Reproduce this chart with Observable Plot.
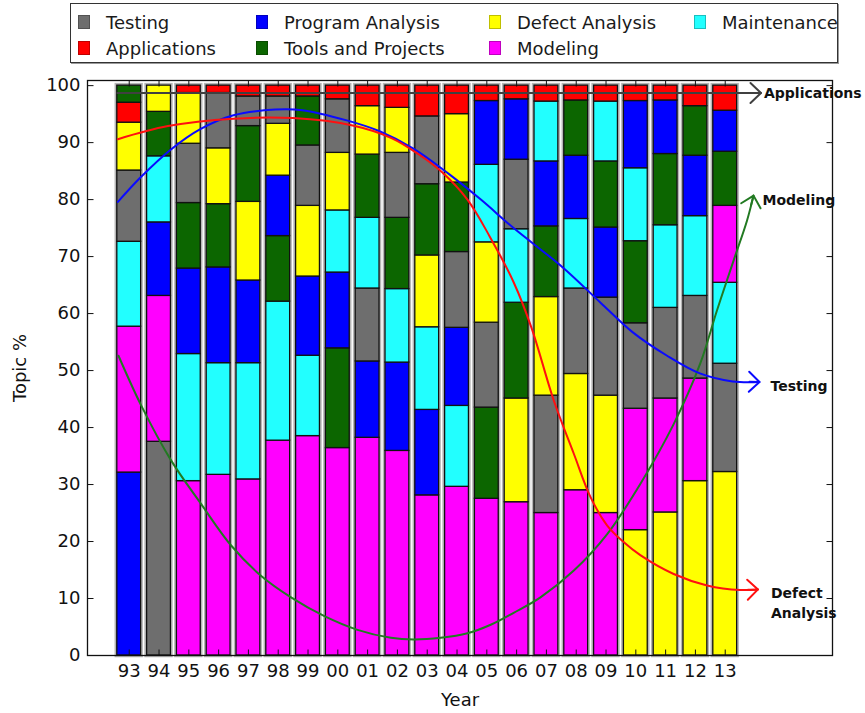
<!DOCTYPE html>
<html>
<head>
<meta charset="utf-8">
<script src="https://cdn.jsdelivr.net/npm/d3@7"></script>
<script src="https://cdn.jsdelivr.net/npm/@observablehq/plot@0.6"></script>
<style>
  body { margin: 0; background: #fff; font-family: "DejaVu Sans", sans-serif; }
  #wrap { width: 865px; }
  #legendArea { position: relative; height: 70px; }
  #legend {
    position: absolute; left: 70px; top: 3px; width: 768px; height: 60px;
    box-sizing: border-box; border: 1px solid #333; box-shadow: 1px 1px 0 #999;
    padding: 5px 0 0 7px; display: grid; grid-template-rows: 26px 26px;
    grid-auto-flow: column; grid-template-columns: 178px 233px 205px auto;
    font-size: 18px; color: #1a1a1a;
  }
  .item { display: flex; align-items: center; height: 26px; white-space: nowrap; }
  .sw { width: 12px; height: 14px; margin-right: 16px; box-sizing: border-box; border: 1px solid rgba(0,0,0,0.25); }
</style>
</head>
<body>
<div id="wrap">
  <div id="legendArea"><div id="legend"></div></div>
  <div id="chart"></div>
</div>
<script>
// ---- Data ----
const years = ["93","94","95","96","97","98","99","00","01","02","03","04","05","06","07","08","09","10","11","12","13"];
const topics = ["Testing","Applications","Program Analysis","Tools and Projects","Defect Analysis","Modeling","Maintenance"];
const topicColors = ["#6e6e6e","#ff0000","#0000ff","#0c6600","#ffff00","#ff00ff","#22ffff"];

const testing         = [12.5,37.5,10.4, 9.7, 5.2, 4.8,10.6, 9.4,12.8,11.4,11.9,13.3,14.9,12.2,20.6,15.0,17.2,15.0,15.9,14.5,19.0];
const applications    = [ 3.5, 0.0, 1.3, 1.3, 1.9, 1.9, 1.9, 2.4, 3.6, 3.9, 5.4, 5.0, 2.7, 2.4, 2.8, 2.6, 2.8, 2.7, 2.6, 3.6, 4.4];
const programAnalysis = [32.1,12.9,15.0,16.8,14.5,10.6,13.9,13.3,13.4,15.5,15.0,13.7,11.2,10.6,11.4,11.1,12.3,11.8, 9.4,10.6, 7.2];
const toolsProjects   = [ 3.0, 7.8,11.5,11.1,13.3,11.5, 8.6,17.5,11.1,12.5,12.5,12.2,16.0,16.8,12.4, 9.7,11.6,14.4,12.5, 8.7, 9.5];
const defectAnalysis  = [ 8.4, 4.6, 8.9, 9.8,13.8, 9.1,12.4,10.1, 8.5, 7.9,12.6,12.0,14.1,18.2,17.3,20.4,20.6,22.0,25.1,30.6,32.2];
const modeling        = [25.6,25.6,30.6,31.7,30.9,37.7,38.5,36.4,38.2,35.9,28.1,29.6,27.5,26.9,25.0,29.0,25.0,21.3,20.0,18.0,13.5];
const maintenance     = [14.9,11.6,22.3,19.6,20.4,24.4,14.1,10.9,12.4,12.9,14.5,14.2,13.6,12.9,10.5,12.2,10.5,12.8,14.5,14.0,14.2];

const yTicks = [0,10,20,30,40,50,60,70,80,90,100];

// Trend curves: [year position (index), topic %]
const applicationsTrend = [[-0.4,98.7],[21.2,98.7]];
const modelingTrend = [[-0.36,52.6],[0.4,43.9],[1.41,34.2],[2.41,26.6],[3.42,19.3],[4.42,14.0],[5.43,10.2],[6.55,6.9],[7.66,4.5],[8.78,3.1],[9.55,2.8],[10.45,3.1],[11.35,3.9],[12.13,5.4],[12.9,7.5],[13.8,10.2],[14.92,14.9],[16.04,21.3],[17.15,30.1],[18.27,40.6],[19.16,51.2],[19.72,60.5],[20.28,69.3],[20.73,76.3],[20.95,80.7]];
const testingTrend = [[-0.38,79.6],[0.4,84.0],[1.4,88.8],[2.4,92.4],[3.5,94.8],[4.9,95.8],[5.8,95.7],[7.3,93.9],[8.4,92.0],[9.55,88.9],[10.7,84.6],[11.8,80.0],[12.9,75.0],[14.55,68.1],[15.8,62.0],[16.9,56.7],[18.05,52.6],[19.15,49.5],[20.25,48.1],[21.15,48.0]];
const defectTrend = [[-0.38,90.6],[1.3,92.9],[3.5,94.2],[5.5,94.3],[7.5,93.0],[8.8,90.8],[9.7,88.0],[10.5,84.8],[11.35,80.0],[12.1,73.5],[12.9,65.5],[13.5,57.5],[14.25,44.7],[14.92,35.4],[15.48,27.8],[16.04,22.8],[16.59,19.9],[17.15,17.6],[18.27,14.3],[19.39,12.3],[20.5,11.5],[21.1,11.6]];

// ---- Build tables ----
const series = [testing, applications, programAnalysis, toolsProjects, defectAnalysis, modeling, maintenance];
const rows = [];
const totals = [];
years.forEach((yr, i) => {
  const entries = topics.map((t, k) => ({topic: t, value: series[k][i]}))
    .filter(d => d.value > 0)
    .sort((a, b) => b.value - a.value);
  let acc = 0;
  for (const e of entries) {
    rows.push({i, year: yr, topic: e.topic, y1: acc, y2: acc + e.value});
    acc += e.value;
  }
  totals.push({i, total: acc});
});

// ---- Legend ----
const legend = document.getElementById("legend");
topics.forEach((t, k) => {
  const it = document.createElement("div");
  it.className = "item";
  it.innerHTML = `<span class="sw" style="background:${topicColors[k]}"></span><span>${t}</span>`;
  legend.appendChild(it);
});

// ---- Layout ----
const W = 865, H = 643, mL = 87, mR = 33, mT = 10, mB = 58;
const xDom = [-1.4, 23.6], yDom = [0, 100.9];
const kx = (W - mL - mR) / (xDom[1] - xDom[0]);
const ky = (H - mT - mB) / (yDom[1] - yDom[0]);
const half = 0.4;

const tickSym = (dx, dy) => ({draw(ctx) { ctx.moveTo(0, 0); ctx.lineTo(dx, dy); }});
const headShape = {draw(ctx, l) { ctx.moveTo(0, 0); ctx.lineTo(0, -l); ctx.moveTo(-10, -l + 10.5); ctx.lineTo(0, -l); ctx.lineTo(10, -l + 10.5); }};

const trends = [
  {name: "Applications", pts: applicationsTrend, color: "#404040", label: "Applications", dx: 3, dy: -1},
  {name: "Modeling", pts: modelingTrend, color: "#227a22", label: "Modeling", dx: 9, dy: 3},
  {name: "Testing", pts: testingTrend, color: "#0a0aff", label: "Testing", dx: 11, dy: 3},
  {name: "Defect", pts: defectTrend, color: "#ff1010", label: "Defect\nAnalysis", dx: 13, dy: 12}
];

const trendMarks = [];
for (const t of trends) {
  const n = t.pts.length;
  const a = t.pts[n - 2], b = t.pts[n - 1];
  const rot = Math.atan2((b[0] - a[0]) * kx, (b[1] - a[1]) * ky) * 180 / Math.PI;
  trendMarks.push(Plot.line(t.pts, {x: d => d[0], y: d => d[1], curve: t.pts.length > 2 ? "catmull-rom" : "linear", stroke: t.color, strokeWidth: 2}));
  trendMarks.push(Plot.vector([b], {x: d => d[0], y: d => d[1], length: 10, rotate: rot, anchor: "end", shape: headShape, r: 3, stroke: t.color, strokeWidth: 2}));
}
const labelMarks = trends.map(t => Plot.text([t.pts[t.pts.length - 1]], {
  x: d => d[0], y: d => d[1], text: () => t.label, dx: t.dx, dy: t.dy,
  textAnchor: "start", lineAnchor: "middle", lineHeight: 1.43,
  fontFamily: "DejaVu Sans", fontWeight: "bold", fontSize: 14, fill: "#111"
}));

const chart = Plot.plot({
  width: W, height: H,
  marginLeft: mL, marginRight: mR, marginTop: mT, marginBottom: mB,
  style: {fontFamily: "DejaVu Sans", fontSize: "18px", color: "#111", background: "white", overflow: "visible"},
  x: {domain: xDom},
  y: {domain: yDom},
  color: {domain: topics, range: topicColors},
  marks: [
    Plot.rect(totals, {x1: d => d.i - half, x2: d => d.i + half, y1: 0, y2: d => d.total, fill: "none", stroke: "#b5b5b5", strokeWidth: 4.5}),
    Plot.rect(rows, {x1: d => d.i - half, x2: d => d.i + half, y1: "y1", y2: "y2", fill: "topic", stroke: "#111", strokeWidth: 1.3}),
    ...trendMarks,
    ...labelMarks,
    Plot.axisY({ticks: yTicks, tickSize: 0, tickPadding: 7, label: null, fontSize: 18}),
    Plot.axisX({ticks: years.map((_, i) => i), tickFormat: i => years[i], tickSize: 0, tickPadding: 9, label: null, fontSize: 18}),
    Plot.dot(yTicks, {y: d => d, frameAnchor: "left", symbol: tickSym(6, 0), fill: "none", stroke: "#111", strokeWidth: 1}),
    Plot.dot(yTicks, {y: d => d, frameAnchor: "right", symbol: tickSym(-6, 0), fill: "none", stroke: "#111", strokeWidth: 1}),
    Plot.dot(years.map((_, i) => i), {x: d => d, frameAnchor: "bottom", symbol: tickSym(0, -6), fill: "none", stroke: "#111", strokeWidth: 1}),
    Plot.dot(years.map((_, i) => i), {x: d => d, frameAnchor: "top", symbol: tickSym(0, 6), fill: "none", stroke: "#111", strokeWidth: 1}),
    Plot.text(["Topic %"], {frameAnchor: "left", dx: -67, rotate: -90, textAnchor: "middle", lineAnchor: "middle", fontSize: 18, fill: "#111"}),
    Plot.text(["Year"], {frameAnchor: "bottom", dy: 45, textAnchor: "middle", lineAnchor: "middle", fontSize: 18, fill: "#111"}),
    Plot.frame({stroke: "#111", strokeWidth: 1.3})
  ]
});
document.getElementById("chart").appendChild(chart);
</script>
</body>
</html>
